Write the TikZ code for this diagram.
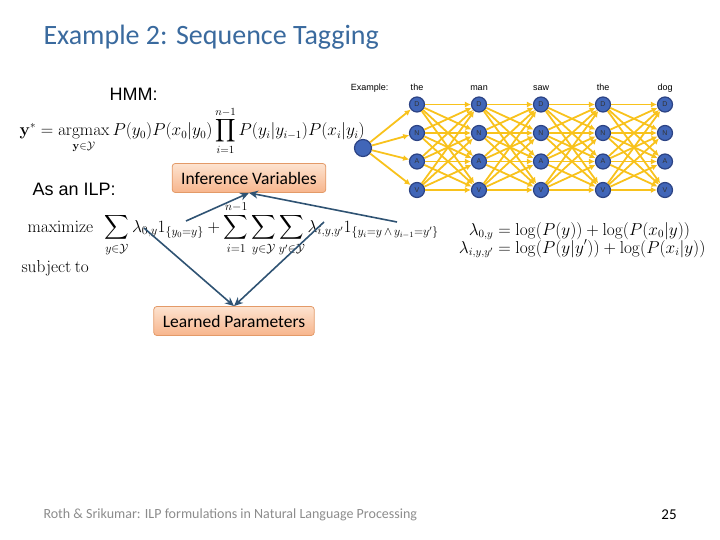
\documentclass[tikz,border=0pt]{standalone}
\usepackage{amsmath}
\usepackage{amssymb}
\usepackage[no-math]{fontspec}
\setmainfont{Carlito}
\newfontfamily\arialfont{Liberation Sans}
\usetikzlibrary{positioning,arrows.meta,shadings}
\definecolor{titleblue}{HTML}{3A6A9E}
\definecolor{tagblue}{HTML}{4166B8}
\definecolor{tagrim}{HTML}{2C4384}
\definecolor{gold}{HTML}{F8C21C}
\definecolor{linkblue}{HTML}{2F5373}
\definecolor{peachtop}{HTML}{FDE3D0}
\definecolor{peachbot}{HTML}{F7B58C}
\definecolor{peachrim}{HTML}{E39A68}
\definecolor{footgray}{HTML}{8C8C8C}

\tikzset{
  tag/.style={circle, draw=tagrim, line width=1.2pt, fill=tagblue, minimum size=15pt,
    inner sep=0pt, font=\arialfont\fontsize{7}{7}\selectfont, text=black!80},
  edge/.style={draw=gold, line width=1.8pt, -{Latex[length=6pt,width=6pt]}},
  peachbox/.style={rounded corners=3pt, draw=peachrim, line width=0.8pt,
    top color=peachtop, bottom color=peachbot, minimum height=29pt, inner xsep=9pt,
    font=\fontsize{17.5}{17.5}\selectfont},
  link/.style={draw=linkblue, line width=1.6pt, -{Stealth[length=9pt,width=8pt]}},
  word/.style={font=\arialfont\fontsize{9}{9}\selectfont, anchor=base},
  mathtext/.style={font=\fontsize{16}{16}\selectfont}
}

\begin{document}
\begin{tikzpicture}[x=1pt, y=-1pt]
  \useasboundingbox (0,0) rectangle (720,540);
  % Title and labels
  \node[anchor=west, text=titleblue, font=\fontsize{28}{28}\selectfont] (title) at (40,37) {Example 2: Sequence Tagging};
  \node[anchor=west, font=\arialfont\fontsize{18}{18}\selectfont] (hmm) at (106,94) {HMM:};
  \node[anchor=west, font=\arialfont\fontsize{18}{18}\selectfont] (ilp) at (29,189) {As an ILP:};
  \node[anchor=west, mathtext] (hmmeq) at (16,131)
    {$\displaystyle \mathbf{y}^* = \operatorname*{argmax}_{\mathbf{y}\in\mathcal{Y}} P(y_0)P(x_0|y_0)\prod_{i=1}^{n-1} P(y_i|y_{i-1})P(x_i|y_i)$};
  \node[anchor=west, mathtext, font=\fontsize{17}{17}\selectfont] (ilpeq) at (24,229)
    {$\mathrm{maximize}\enspace \displaystyle \sum_{y\in\mathcal{Y}}\lambda_{0,y}1_{\{y_0=y\}}+\sum_{i=1}^{n-1}\sum_{y\in\mathcal{Y}}\sum_{y'\in\mathcal{Y}}\lambda_{i,y,y'}1_{\{y_i=y\,\wedge\,y_{i-1}=y'\}}$};
  \node[anchor=west, mathtext] (subj) at (18,268) {$\mathrm{subject\ to}$};
  \node[anchor=east, mathtext] (lameq) at (709,240)
    {$\begin{aligned}\lambda_{0,y}&=\log(P(y))+\log(P(x_0|y))\\[-4pt]
      \lambda_{i,y,y'}&=\log(P(y|y'))+\log(P(x_i|y))\end{aligned}$};

  % Trellis
  \node[word, anchor=base east] (ex) at (392,91) {Example:};
  \node[tag, minimum size=17pt] (s) at (363,148) {};
  \foreach \w [count=\c] in {the,man,saw,the,dog} {
    \node[word] (w\c) at (355+62*\c,91) {\w};
    \foreach \t [count=\r] in {D,N,A,V}
      \node[tag] (t\c\r) at (355+62*\c,76+28.5*\r) {\t};
  }
  % Connect the nodes
  \foreach \r in {1,...,4}
    \draw[edge] (s) -- (t1\r);
  \foreach \c [evaluate=\c as \n using int(\c+1)] in {1,...,4}
    \foreach \r in {1,...,4}
      \foreach \q in {1,...,4}
        \draw[edge] (t\c\r) -- (t\n\q);

  % Boxes and arrows
  \node[peachbox] (infer) at (249,178) {Inference Variables};
  \node[peachbox] (learn) at (234,321) {Learned Parameters};
  \coordinate (ind0) at (186,221);
  \coordinate (ind1) at (397,222);
  \coordinate (lam0) at (144,228);
  \coordinate (lam1) at (324,222);
  \draw[link] (ind0) -- (infer.south);
  \draw[link] (ind1) -- (infer.south);
  \draw[link] (lam0) -- (learn.north);
  \draw[link] (lam1) -- (learn.north);

  % Footer
  \node[anchor=west, text=footgray, font=\fontsize{14}{14}\selectfont] (foot) at (40,515)
    {Roth \& Srikumar: ILP formulations in Natural Language Processing};
  \node[font=\fontsize{15}{15}\selectfont] (page) at (669,515) {25};
\end{tikzpicture}
\end{document}
